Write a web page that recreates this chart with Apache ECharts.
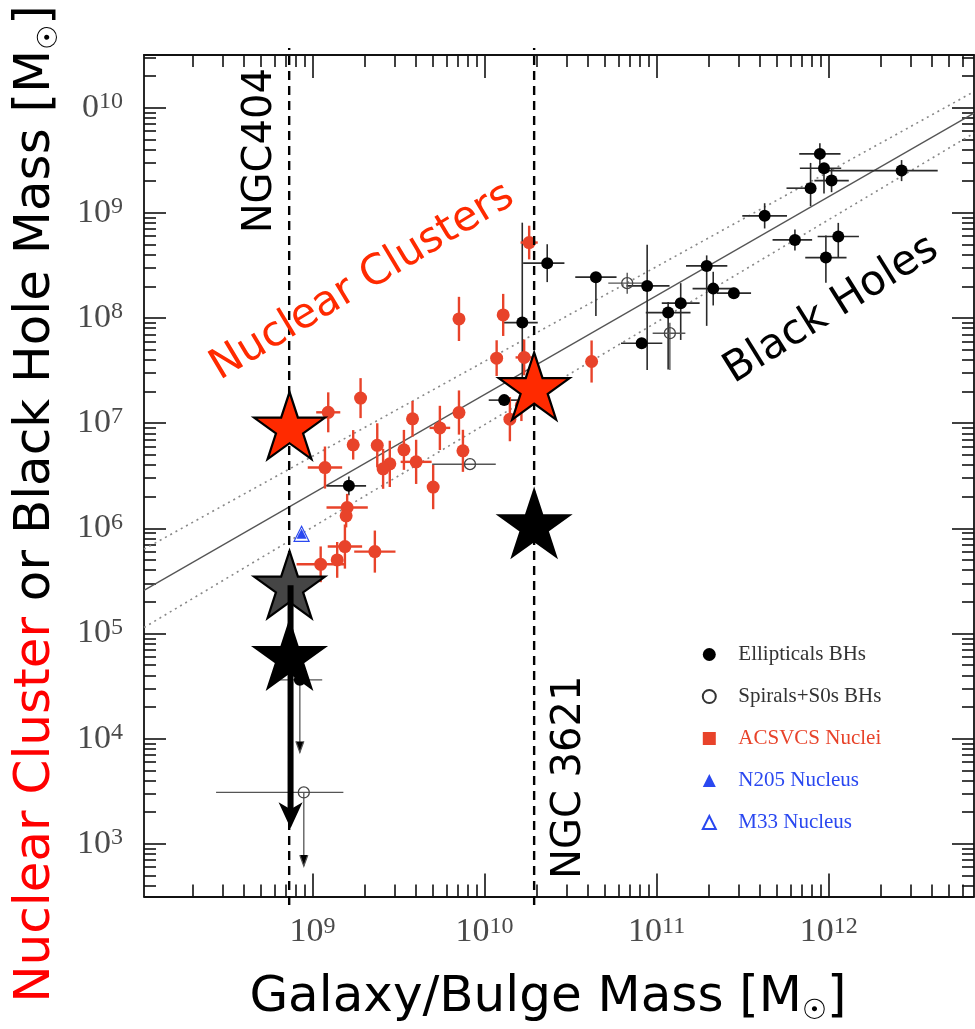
<!DOCTYPE html>
<html>
<head>
<meta charset="utf-8">
<script src="https://cdn.jsdelivr.net/npm/echarts@6/dist/echarts.min.js"></script>
<style>
  html, body { margin: 0; padding: 0; background: #ffffff; }
  #chart { width: 975px; height: 1029px; }
</style>
</head>
<body>
<div id="chart"></div>
<script>
// All masses are log10(M / Msun).
// Rows: [log M_gal, log M, x err low, x err high, y err low, y err high] (dex)
const ellipticals = [
  [11.949, 9.560, 0.12, 0.12, 0.10, 0.10],
  [11.973, 9.424, 0.14, 0.10, 0.24, 0.05],
  [12.424, 9.401, 0.45, 0.21, 0.10, 0.10],
  [12.017, 9.306, 0.10, 0.10, 0.11, 0.11],
  [11.895, 9.234, 0.14, 0.02, 0.17, 0.24],
  [11.628, 8.971, 0.13, 0.13, 0.12, 0.12],
  [11.804, 8.742, 0.13, 0.10, 0.10, 0.10],
  [12.056, 8.774, 0.12, 0.12, 0.20, 0.13],
  [11.984, 8.574, 0.12, 0.12, 0.24, 0.21],
  [10.364, 8.521, 0.14, 0.10, 0.18, 0.18],
  [10.647, 8.388, 0.12, 0.12, 0.37, 0.02],
  [10.945, 8.305, 0.12, 0.13, 0.80, 0.39],
  [11.291, 8.495, 0.12, 0.12, 0.57, 0.10],
  [11.329, 8.279, 0.12, 0.13, 0.16, 0.16],
  [11.449, 8.236, 0.10, 0.10, 0.00, 0.00],
  [11.140, 8.141, 0.11, 0.11, 0.35, 0.19],
  [11.067, 8.051, 0.13, 0.13, 0.54, 0.10],
  [10.913, 7.760, 0.12, 0.12, 0.00, 0.00],
  [10.219, 7.956, 0.11, 0.09, 0.73, 0.95],
  [10.114, 7.219, 0.09, 0.09, 0.00, 0.00],
  [9.211, 6.404, 0.13, 0.10, 0.09, 0.09]
];
const spirals = [
  [10.829, 8.331, 0.11, 0.11, 0.10, 0.10],
  [11.077, 7.855, 0.10, 0.09, 0.35, 0.10],
  [9.915, 6.610, 0.22, 0.15, 0.00, 0.00]
];
const acsvcsNuclei = [
  [9.091, 7.103, 0.07, 0.07, 0.19, 0.19],
  [9.279, 7.238, 0.00, 0.00, 0.19, 0.19],
  [9.236, 6.794, 0.035, 0.035, 0.14, 0.14],
  [9.376, 6.789, 0.00, 0.00, 0.21, 0.21],
  [9.072, 6.578, 0.10, 0.10, 0.20, 0.20],
  [9.581, 7.041, 0.03, 0.03, 0.17, 0.17],
  [9.531, 6.746, 0.00, 0.00, 0.19, 0.19],
  [9.449, 6.613, 0.00, 0.00, 0.22, 0.22],
  [9.410, 6.566, 0.00, 0.00, 0.19, 0.19],
  [9.602, 6.632, 0.09, 0.09, 0.21, 0.21],
  [9.740, 6.955, 0.06, 0.06, 0.21, 0.21],
  [9.851, 7.101, 0.00, 0.00, 0.21, 0.21],
  [9.874, 6.737, 0.00, 0.00, 0.20, 0.20],
  [9.701, 6.392, 0.00, 0.00, 0.21, 0.21],
  [10.147, 7.038, 0.00, 0.00, 0.21, 0.21],
  [9.201, 6.198, 0.12, 0.12, 0.13, 0.13],
  [9.195, 6.119, 0.00, 0.00, 0.11, 0.11],
  [9.188, 5.827, 0.10, 0.10, 0.21, 0.21],
  [9.362, 5.779, 0.12, 0.12, 0.20, 0.20],
  [9.143, 5.700, 0.00, 0.00, 0.17, 0.17],
  [9.047, 5.658, 0.14, 0.14, 0.17, 0.17],
  [10.259, 8.717, 0.05, 0.05, 0.16, 0.16],
  [9.851, 7.991, 0.00, 0.00, 0.21, 0.21],
  [10.108, 8.029, 0.00, 0.00, 0.20, 0.20],
  [10.070, 7.618, 0.00, 0.00, 0.17, 0.17],
  [10.230, 7.625, 0.05, 0.05, 0.17, 0.17],
  [10.622, 7.586, 0.00, 0.00, 0.20, 0.20],
  [10.214, 7.170, 0.00, 0.00, 0.15, 0.15]
];
// Upper limits: [log M_gal, log M_bh limit, x err low, x err high, arrow length (dex)]
const ellipticalLimits = [[8.926, 4.560, 0.13, 0.13, 0.69]];
const spiralLimits = [[8.949, 3.489, 0.51, 0.23, 0.70]];
const n205Nucleus = [[8.936, 5.948]];
const m33Nucleus = [[8.936, 5.948]];

// Mean relation and its envelope, as end points
const fitLine = [[8.02, 5.410], [12.845, 9.947]];
const fitUpper = [[8.02, 5.802], [12.845, 10.152]];
const fitLower = [[8.02, 5.057], [12.845, 9.757]];

// Highlighted galaxies (vertical guides)
const galaxyNames = ['NGC404', 'NGC 3621'];
const galaxyLogMass = [8.864, 10.288];
const guideSpan = [2.42, 10.567];

// Nuclear cluster masses (red) and black hole masses / limit (black, grey)
const ncStars = [[8.866, 6.977], [10.288, 7.353]];
const bhStars = [[10.288, 6.049], [8.866, 4.797]];
const bhGreyStar = [[8.866, 5.466]];
// [log M_gal, arrow start, arrow tip]
const bhLimitArrow = [[8.872, 5.46, 3.15]];

const xMajorTicks = [9, 10, 11, 12];
const yMajorTicks = [3, 4, 5, 6, 7, 8, 9, 10];
const xRange = [8.02, 12.845];
const yRange = [2.5, 10.5];

const RED = '#e8432a';
const BLUE = '#2a48f0';

function minorTicks(range) {
  const out = [];
  for (let n = Math.floor(range[0]); n <= Math.ceil(range[1]); n++) {
    for (let k = 2; k <= 9; k++) {
      const v = n + Math.log10(k);
      if (v > range[0] && v < range[1]) out.push(v);
    }
  }
  return out;
}

const tickLabel = {
  show: true,
  margin: 18,
  formatter: v => '{b|10}{s|' + Math.round(v) + '}',
  rich: {
    b: { fontFamily: 'Liberation Serif', fontSize: 34, lineHeight: 36, color: '#4a4a4a' },
    s: { fontFamily: 'Liberation Serif', fontSize: 24, lineHeight: 28, verticalAlign: 'top', color: '#4a4a4a' }
  }
};

function makeAxis(position, range, ticks, len, withLine, labels) {
  return {
    type: 'value', gridIndex: 0, position: position,
    min: range[0], max: range[1],
    axisLine: { show: withLine, onZero: false, lineStyle: { color: '#111', width: 1.8 } },
    axisTick: { show: true, inside: true, length: len, customValues: ticks,
                lineStyle: { color: '#111', width: 1.6 } },
    axisLabel: labels ? Object.assign({ customValues: ticks }, labels) : { show: false },
    splitLine: { show: false },
    minorTick: { show: false },
    minorSplitLine: { show: false }
  };
}

const xMinor = minorTicks(xRange);
const yMinor = minorTicks(yRange);

const xAxes = [
  makeAxis('bottom', xRange, xMajorTicks, 23, true, tickLabel),
  makeAxis('bottom', xRange, xMinor, 12, false, null),
  makeAxis('top', xRange, xMajorTicks, 23, true, null),
  makeAxis('top', xRange, xMinor, 12, false, null)
];
const yLabel = Object.assign({}, tickLabel, { margin: 21 });
const yAxes = [
  makeAxis('left', yRange, yMajorTicks, 22, true, yLabel),
  makeAxis('left', yRange, yMinor, 12, false, null),
  makeAxis('right', yRange, yMajorTicks, 22, true, null),
  makeAxis('right', yRange, yMinor, 12, false, null)
];

function errorBars(name, rows, color, width, z) {
  return {
    type: 'custom', name: name, z: z, silent: true,
    xAxisIndex: 0, yAxisIndex: 0,
    data: rows,
    encode: { x: 0, y: 1 },
    renderItem: function (params, api) {
      const x = api.value(0), y = api.value(1);
      const xl = api.value(2), xh = api.value(3), yl = api.value(4), yh = api.value(5);
      const style = { stroke: color, lineWidth: width };
      const children = [];
      if (xl > 0 || xh > 0) {
        const a = api.coord([x - xl, y]), b = api.coord([x + xh, y]);
        children.push({ type: 'line', shape: { x1: a[0], y1: a[1], x2: b[0], y2: b[1] }, style: style });
      }
      if (yl > 0 || yh > 0) {
        const a = api.coord([x, y - yl]), b = api.coord([x, y + yh]);
        children.push({ type: 'line', shape: { x1: a[0], y1: a[1], x2: b[0], y2: b[1] }, style: style });
      }
      return { type: 'group', children: children };
    }
  };
}

function limitArrows(name, rows, color, z) {
  return {
    type: 'custom', name: name, z: z, silent: true,
    xAxisIndex: 0, yAxisIndex: 0,
    data: rows,
    encode: { x: 0, y: 1 },
    renderItem: function (params, api) {
      const x = api.value(0), y = api.value(1);
      const xl = api.value(2), xh = api.value(3), drop = api.value(4);
      const style = { stroke: color, lineWidth: 1.3 };
      const a = api.coord([x - xl, y]), b = api.coord([x + xh, y]);
      const p = api.coord([x, y]), t = api.coord([x, y - drop]);
      return {
        type: 'group', children: [
          { type: 'line', shape: { x1: a[0], y1: a[1], x2: b[0], y2: b[1] }, style: style },
          { type: 'line', shape: { x1: p[0], y1: p[1], x2: t[0], y2: t[1] }, style: style },
          { type: 'polyline', shape: { points: [[t[0] - 4, t[1] - 11], [t[0], t[1]], [t[0] + 4, t[1] - 11]] }, style: style }
        ]
      };
    }
  };
}

function xy(rows) { return rows.map(r => [r[0], r[1]]); }

const STAR = 'path://M50,0 L61.23,34.55 L97.55,34.55 L68.17,55.9 L79.39,90.45 L50,69.1 L20.61,90.45 L31.83,55.9 L2.45,34.55 L38.77,34.55 Z';

const annotations = [
  { text: 'Nuclear Clusters', at: [9.289, 8.343], rotate: 31, color: '#ff2a00', size: 42 },
  { text: 'Black Holes', at: [12.016, 8.077], rotate: 32, color: '#000000', size: 42 },
  { text: galaxyNames[0], at: [8.695, 9.590], rotate: 90, color: '#000000', size: 40 },
  { text: galaxyNames[1], at: [10.493, 3.633], rotate: 90, color: '#000000', size: 40 }
];

const series = [
  // mean relation and envelope
  { type: 'line', name: 'fit', data: fitLine, symbol: 'none', z: 2, silent: true,
    lineStyle: { color: '#555', width: 1.3 } },
  { type: 'line', name: 'fitUp', data: fitUpper, symbol: 'none', z: 2, silent: true,
    lineStyle: { color: '#888', width: 1.6, type: [2, 4] } },
  { type: 'line', name: 'fitLo', data: fitLower, symbol: 'none', z: 2, silent: true,
    lineStyle: { color: '#888', width: 1.6, type: [2, 4] } },

  errorBars('ellErr', ellipticals, '#2a2a2a', 1.6, 3),
  errorBars('spiErr', spirals, '#555', 1.4, 3),
  errorBars('ncErr', acsvcsNuclei, RED, 2.4, 3),
  limitArrows('ellLim', ellipticalLimits, '#555', 3),
  limitArrows('spiLim', spiralLimits, '#555', 3),

  { type: 'scatter', name: 'Ellipticals BHs', z: 4, symbol: 'circle', symbolSize: 12,
    data: xy(ellipticals).concat(xy(ellipticalLimits)),
    itemStyle: { color: '#000', opacity: 1 } },
  { type: 'scatter', name: 'Spirals+S0s BHs', z: 4, symbol: 'circle', symbolSize: 11,
    data: xy(spirals).concat(xy(spiralLimits)),
    itemStyle: { color: 'rgba(255,255,255,0)', borderColor: '#444', borderWidth: 1.3, opacity: 1 } },
  { type: 'scatter', name: 'ACSVCS Nuclei', z: 4, symbol: 'circle', symbolSize: 13,
    data: xy(acsvcsNuclei),
    itemStyle: { color: RED, opacity: 1 } },
  { type: 'scatter', name: 'N205 Nucleus', z: 4, symbol: 'triangle', symbolSize: 10,
    data: n205Nucleus, itemStyle: { color: BLUE, opacity: 1 } },
  { type: 'scatter', name: 'M33 Nucleus', z: 4, symbol: 'triangle', symbolSize: 15,
    data: m33Nucleus,
    itemStyle: { color: 'rgba(255,255,255,0)', borderColor: BLUE, borderWidth: 1.2, opacity: 1 } },

  // vertical guides through the highlighted galaxies
  { type: 'custom', name: 'guides', z: 5, silent: true,
    data: galaxyLogMass.map(v => [v, guideSpan[0], guideSpan[1]]),
    encode: { x: 0, y: 1 },
    renderItem: function (params, api) {
      const a = api.coord([api.value(0), api.value(1)]);
      const b = api.coord([api.value(0), api.value(2)]);
      return { type: 'line', shape: { x1: a[0], y1: a[1], x2: b[0], y2: b[1] },
               style: { stroke: '#000', lineWidth: 2.4, lineDash: [9, 6] } };
    } },

  // stars
  { type: 'scatter', name: 'ncStars', z: 6, symbol: STAR, symbolSize: [71, 67],
    data: ncStars, itemStyle: { color: '#ff2a00', borderColor: '#000', borderWidth: 2.2, opacity: 1 } },
  { type: 'scatter', name: 'bhGrey', z: 6, symbol: STAR, symbolSize: [71, 67],
    data: bhGreyStar, itemStyle: { color: '#454545', borderColor: '#000', borderWidth: 2.2, opacity: 1 } },
  { type: 'scatter', name: 'bhStars', z: 6, symbol: STAR, symbolSize: [71, 67],
    data: bhStars, itemStyle: { color: '#000', borderColor: '#000', borderWidth: 2, opacity: 1 } },

  // black hole upper limit arrow
  { type: 'custom', name: 'bhArrow', z: 7, silent: true,
    data: bhLimitArrow, encode: { x: 0, y: 1 },
    renderItem: function (params, api) {
      const s = api.coord([api.value(0), api.value(1)]);
      const t = api.coord([api.value(0), api.value(2)]);
      return { type: 'group', children: [
        { type: 'line', shape: { x1: s[0], y1: s[1], x2: t[0], y2: t[1] - 16 },
          style: { stroke: '#000', lineWidth: 6 } },
        { type: 'polygon', shape: { points: [[t[0], t[1]], [t[0] - 12, t[1] - 26], [t[0], t[1] - 19], [t[0] + 12, t[1] - 26]] },
          style: { fill: '#000' } }
      ] };
    } },

  // text annotations anchored in data space
  { type: 'scatter', name: 'notes', z: 8, silent: true, symbolSize: 1,
    itemStyle: { color: 'rgba(0,0,0,0)', opacity: 1 },
    data: annotations.map(a => ({
      value: a.at,
      label: { show: true, position: 'inside', formatter: a.text, rotate: a.rotate,
               color: a.color, fontSize: a.size, fontFamily: 'DejaVu Sans',
               align: 'center', verticalAlign: 'middle', opacity: 1 }
    })) }
];

const chart = echarts.init(document.getElementById('chart'), null, { renderer: 'canvas' });
chart.setOption({
  animation: false,
  backgroundColor: '#ffffff',
  textStyle: { fontFamily: 'DejaVu Sans' },
  grid: { left: 144, right: 1, top: 55, bottom: 132.5, containLabel: false },
  xAxis: xAxes,
  yAxis: yAxes,
  legend: {
    orient: 'vertical', left: 696.8, top: 639,
    itemWidth: 13, itemHeight: 13, itemGap: 21,
    selectedMode: false,
    formatter: name => '{sp| }' + name,
    textStyle: {
      fontFamily: 'Liberation Serif', fontSize: 21, lineHeight: 18, color: '#333',
      rich: { sp: { width: 17.5, fontSize: 21 } }
    },
    data: [
      { name: 'Ellipticals BHs', icon: 'circle', itemStyle: { color: '#000' } },
      { name: 'Spirals+S0s BHs', icon: 'emptyCircle', itemStyle: { color: '#333' } },
      { name: 'ACSVCS Nuclei', icon: 'rect', itemStyle: { color: RED }, textStyle: { color: RED } },
      { name: 'N205 Nucleus', icon: 'triangle', itemStyle: { color: BLUE }, textStyle: { color: BLUE } },
      { name: 'M33 Nucleus', icon: 'emptyTriangle', itemStyle: { color: BLUE }, textStyle: { color: BLUE } }
    ]
  },
  graphic: [
    // white backing behind the top of the vertical title
    { type: 'rect', z: 100, silent: true,
      shape: { x: 0, y: 0, width: 80, height: 160 },
      style: { fill: '#ffffff' } },
    { type: 'text', x: 548, y: 998, z: 101, silent: true,
      style: {
        text: '{k|Galaxy/Bulge Mass [M}{sub|☉}{k|]}',
        align: 'center', verticalAlign: 'middle', textAlign: 'center', textVerticalAlign: 'middle',
        rich: {
          k: { fontFamily: 'DejaVu Sans', fontSize: 50, lineHeight: 56, fill: '#000', color: '#000' },
          sub: { fontFamily: 'DejaVu Sans', fontSize: 28, lineHeight: 28, verticalAlign: 'bottom', fill: '#000', color: '#000' }
        }
      } },
    { type: 'text', x: 36, y: 504, z: 101, rotation: Math.PI / 2, silent: true,
      style: {
        text: '{r|Nuclear Cluster}{k| or Black Hole Mass [M}{sub|☉}{k|]}',
        align: 'center', verticalAlign: 'middle', textAlign: 'center', textVerticalAlign: 'middle',
        rich: {
          r: { fontFamily: 'DejaVu Sans', fontSize: 50, lineHeight: 56, fill: '#ff0000', color: '#ff0000' },
          k: { fontFamily: 'DejaVu Sans', fontSize: 50, lineHeight: 56, fill: '#000', color: '#000' },
          sub: { fontFamily: 'DejaVu Sans', fontSize: 28, lineHeight: 28, verticalAlign: 'bottom', fill: '#000', color: '#000' }
        }
      } }
  ],
  series: series
});
</script>
</body>
</html>
